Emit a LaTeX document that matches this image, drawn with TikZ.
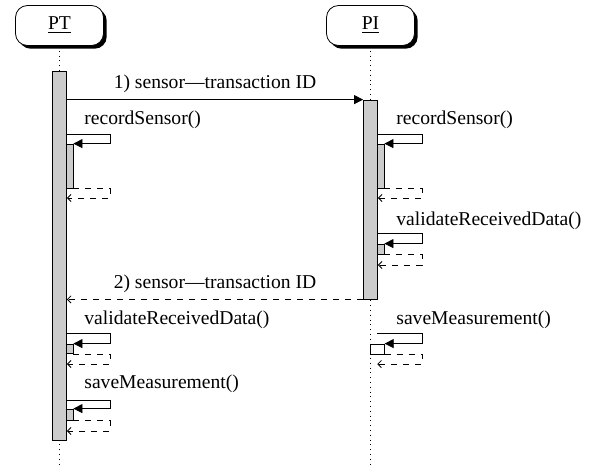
\documentclass[tikz,border=0pt]{standalone}
\usepackage{fontspec}
\setmainfont{Liberation Serif}
\usetikzlibrary{arrows.meta,shadows}

\begin{document}
\begin{tikzpicture}[x=0.5pt, y=-0.5pt,
    every node/.style={font=\fontsize{9.8}{12}\selectfont},
    head/.style={draw, rounded corners=6pt, fill=white, minimum width=44pt, minimum height=20pt,
      drop shadow={shadow xshift=1.6pt, shadow yshift=-1.6pt, fill=black, opacity=1}},
    bar/.style={draw, fill=gray!40, minimum width=7pt, inner sep=0pt},
    sub/.style={draw, fill=gray!40, minimum width=3.25pt, inner sep=0pt},
    life/.style={dotted},
    msg/.style={-{Triangle[length=4.5pt,width=4.5pt]}},
    rmsg/.style={dashed, -{Straight Barb[length=1.8pt,width=3.6pt]}},
    lbl/.style={anchor=west, inner sep=0pt}]
  \useasboundingbox (0,0) rectangle (589,467);
  \node [head] (pt) at (59.5,25.5) {\underline{PT}};
  \node [head] (pi) at (370.5,25.5) {\underline{PI}};
  \coordinate (ptend) at (59.5,467);
  \coordinate (piend) at (370.5,467);
    \draw [life] (pt) -- (ptend);
    \draw [life] (pi) -- (piend);
  \node [bar, minimum height=184.5pt] (ptbar) at (59.5,255.5) {};
  \node [bar, minimum height=99.5pt] (pibar) at (370.5,199.5) {};
  \node [sub, minimum height=22pt] (ptrs) at (69.75,166) {};
  \node [sub, minimum height=22pt] (pirs) at (380.75,166) {};
  \node [sub, minimum height=5pt] (pivr) at (380.75,249) {};
  \node [sub, minimum height=4.75pt] (ptvr) at (69.75,348.75) {};
  \node [bar, fill=white, minimum height=5pt] (pism) at (377.25,349) {};
  \node [sub, minimum height=5.5pt] (ptsm) at (69.75,414.5) {};
    \draw [msg] (ptbar.east |- pibar.north) -- node [above] {1) sensor—transaction ID} (pibar.north west);
    \draw [rmsg] (pibar.south west) -- node [above] {2) sensor—transaction ID} (ptbar.east |- pibar.south);
  \node [lbl] (ptrsl) at (84,120) {recordSensor()};
  \node [lbl] (pirsl) at (396,120) {recordSensor()};
  \node [lbl] (pivrl) at (396,221) {validateReceivedData()};
  \node [lbl] (ptvrl) at (84,320) {validateReceivedData()};
  \node [lbl] (pisml) at (396,320) {saveMeasurement()};
  \node [lbl] (ptsml) at (84,384) {saveMeasurement()};
  \coordinate (ptrsc) at (110,134);
  \coordinate (ptrsr) at (110,198);
  \coordinate (pirsc) at (422,134);
  \coordinate (pirsr) at (422,198);
  \coordinate (pivrc) at (422,233);
  \coordinate (pivrr) at (422,265);
  \coordinate (ptvrc) at (110,333);
  \coordinate (ptvrr) at (110,364);
  \coordinate (pismc) at (422,333);
  \coordinate (pismr) at (422,364);
  \coordinate (ptsmc) at (110,400);
  \coordinate (ptsmr) at (110,431);
    \draw [msg] (ptbar.east |- ptrsc) -- (ptrsc) |- (ptrs.north east);
    \draw [rmsg] (ptrs.south east) -| (ptrsr) -- (ptbar.east |- ptrsr);
    \draw [msg] (pibar.east |- pirsc) -- (pirsc) |- (pirs.north east);
    \draw [rmsg] (pirs.south east) -| (pirsr) -- (pibar.east |- pirsr);
    \draw [msg] (pibar.east |- pivrc) -- (pivrc) |- (pivr.north east);
    \draw [rmsg] (pivr.south east) -| (pivrr) -- (pibar.east |- pivrr);
    \draw [msg] (ptbar.east |- ptvrc) -- (ptvrc) |- (ptvr.north east);
    \draw [rmsg] (ptvr.south east) -| (ptvrr) -- (ptbar.east |- ptvrr);
    \draw [msg] (pism.north |- pismc) -- (pismc) |- (pism.north east);
    \draw [rmsg] (pism.south east) -| (pismr) -- (pism.center |- pismr);
    \draw [msg] (ptbar.east |- ptsmc) -- (ptsmc) |- (ptsm.north east);
    \draw [rmsg] (ptsm.south east) -| (ptsmr) -- (ptbar.east |- ptsmr);
\end{tikzpicture}
\end{document}
